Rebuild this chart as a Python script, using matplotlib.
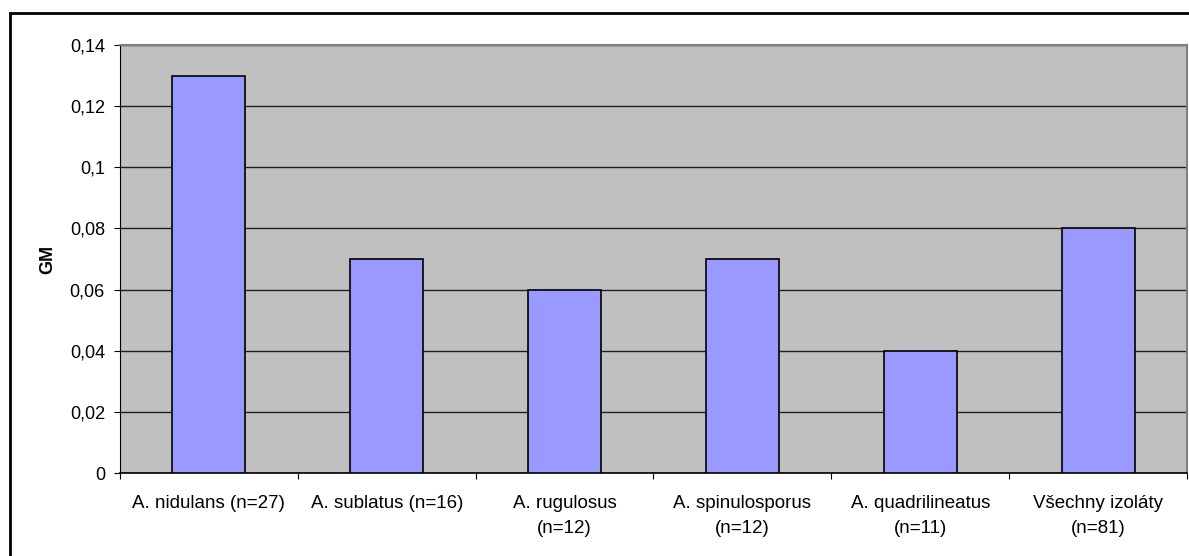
import matplotlib
matplotlib.use("Agg")
import numpy as np
import matplotlib.pyplot as plt
from matplotlib.patches import Rectangle
from matplotlib.ticker import FuncFormatter

categories = ["A. nidulans (n=27)", "A. sublatus (n=16)", "A. rugulosus\n(n=12)",
              "A. spinulosporus\n(n=12)", "A. quadrilineatus\n(n=11)",
              "Všechny izoláty\n(n=81)"]
gm = [0.13, 0.07, 0.06, 0.07, 0.04, 0.08]
yticks = [0, 0.02, 0.04, 0.06, 0.08, 0.1, 0.12, 0.14]

plt.rcParams['font.family'] = ['Liberation Sans', 'DejaVu Sans']

W, H = 1189, 556
fig = plt.figure(figsize=(W / 100, H / 100), dpi=100)
ax = fig.add_axes([120 / W, 1 - 473 / H, (1187 - 120) / W, (473 - 45) / H])

# outer chart border (runs off the right and bottom edges)
fig.patches.append(Rectangle((10 / W, -0.1), 1.2, 1 - 13 / H + 0.1,
                             transform=fig.transFigure, fill=False,
                             edgecolor='black', linewidth=2, zorder=0))

x = np.arange(len(categories))
ax.set_facecolor('#C0C0C0')
ax.bar(x, gm, width=0.41, color='#9999FF', edgecolor='black', linewidth=1.2, zorder=3)

ax.set_xlim(-0.5, len(categories) - 0.5)
ax.set_ylim(0, 0.14)
ax.set_yticks(yticks)
ax.yaxis.set_major_formatter(FuncFormatter(lambda v, p: ('%g' % round(v, 2)).replace('.', ',')))
ax.grid(axis='y', color='#202020', linewidth=1, zorder=1)

ax.set_xticks(np.arange(len(categories) + 1) - 0.5)
ax.set_xticklabels([])
ax.set_xticks(x, minor=True)
ax.set_xticklabels(categories, minor=True, fontsize=13.5, linespacing=1.6, va='top')
ax.tick_params(axis='x', which='minor', length=0, pad=16)
ax.tick_params(axis='x', which='major', length=4.3, direction='out', color='black')
ax.tick_params(axis='y', length=4.3, direction='out', labelsize=13, pad=6.5)

for side in ['top', 'right']:
    ax.spines[side].set_color('#808080')
    ax.spines[side].set_linewidth(1.5)
ax.spines['left'].set_color('black')
ax.spines['bottom'].set_color('black')
ax.spines['bottom'].set_linewidth(1.2)

ax.set_ylabel('GM', fontweight='bold', fontsize=13)
ax.yaxis.set_label_coords(-64 / (1187 - 120), 0.5)

fig.savefig('out.png', dpi=100)
